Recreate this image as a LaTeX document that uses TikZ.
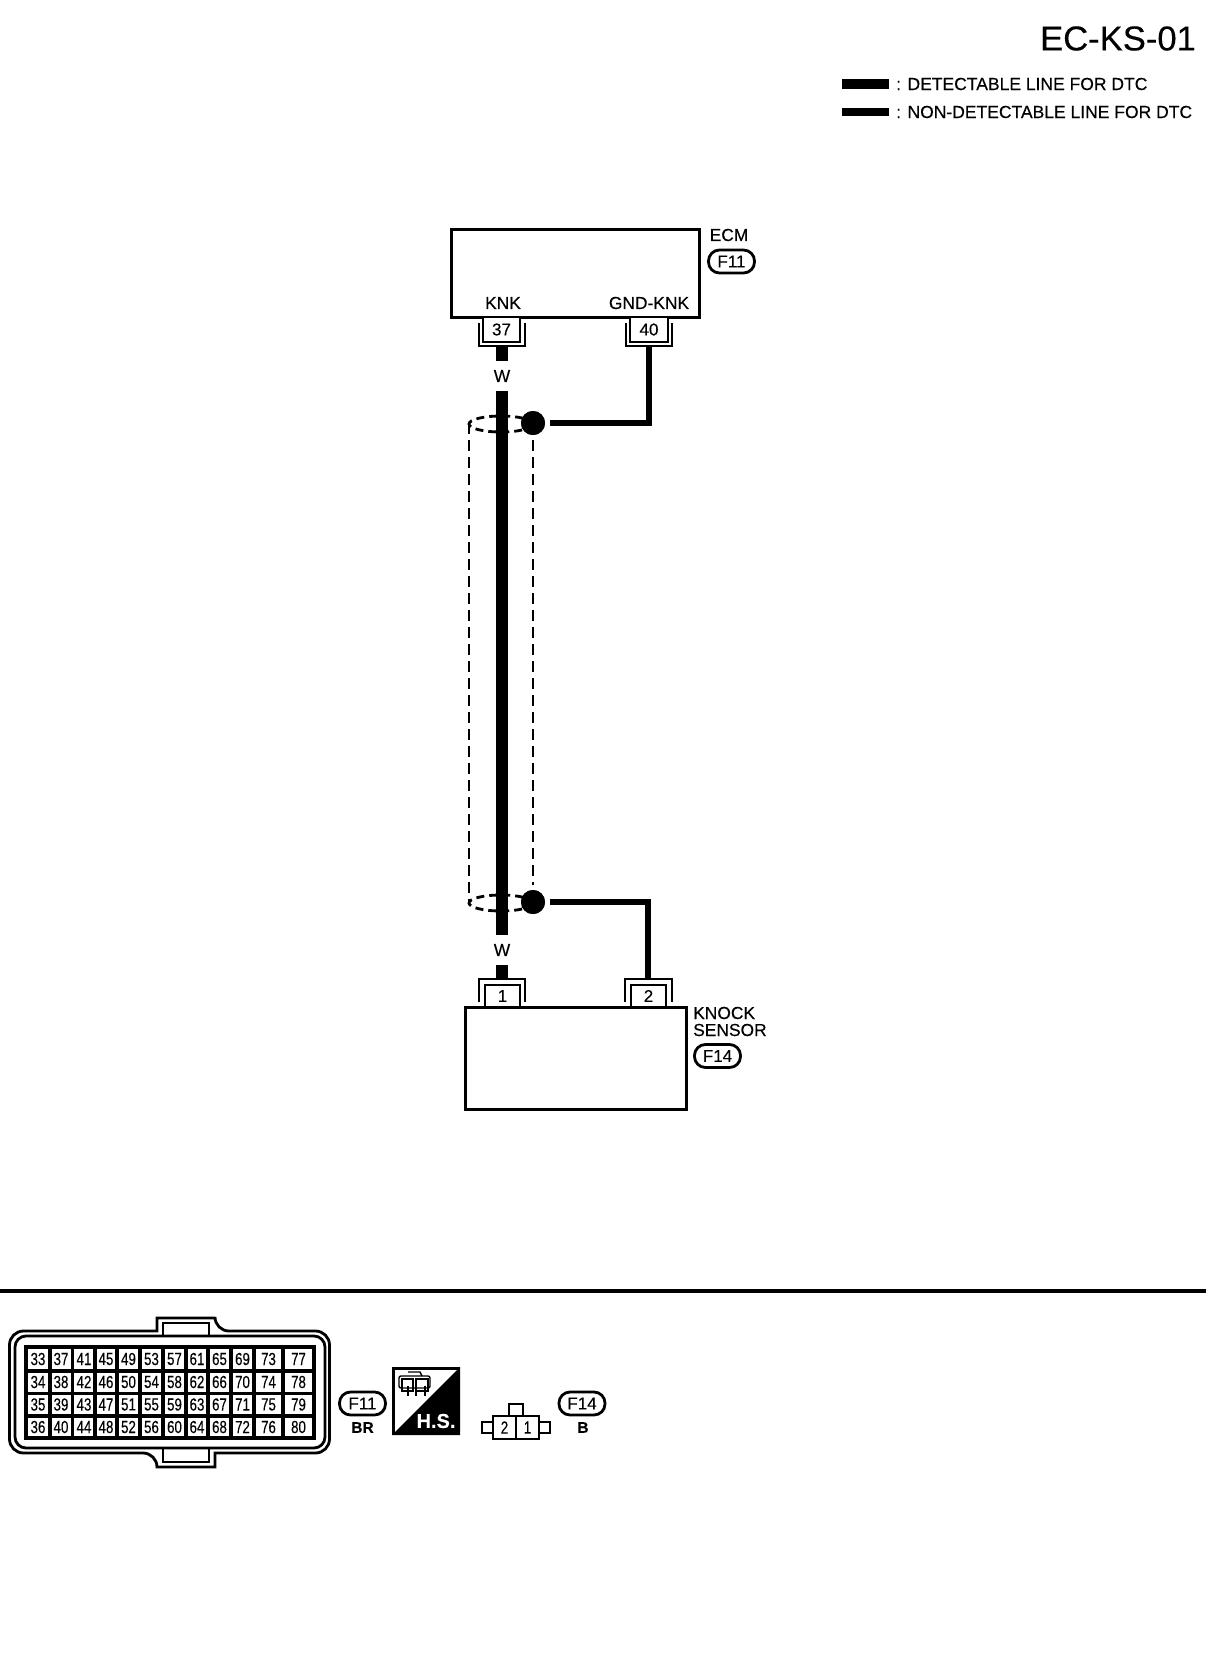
\documentclass[tikz,border=0pt]{standalone}
\usepackage{fontspec}
\usepackage{graphicx}
\setmainfont[FakeBold=0.25]{Liberation Sans}
\usetikzlibrary{positioning}
\newcommand{\pinnum}[1]{\scalebox{.76}[1]{#1}}
\begin{document}
\begin{tikzpicture}[x=1pt,y=-1pt,
    lab node/.style={inner sep=0pt,font=\fontsize{17.4}{17}\selectfont},
    legend node/.style={lab node,anchor=west,font=\fontsize{17.5}{17}\selectfont},
    box node/.style={draw,line width=3pt,inner sep=0pt},
    pin node/.style={draw,line width=2.5pt,inner sep=0pt,fill=white,font=\fontsize{17}{17}\selectfont},
    pill node/.style={draw,line width=2.8pt,rounded corners=11pt,inner sep=0pt,minimum width=46pt,minimum height=23pt,font=\fontsize{17}{17}\selectfont},
    cell node/.style={draw,line width=3.2pt,inner sep=0pt,font=\fontsize{17.5}{17}\selectfont},
    wire node/.style={lab node,minimum height=30pt,minimum width=20pt},
    dot node/.style={circle,fill,inner sep=0pt,minimum size=24pt,outer sep=5pt},
    det wire/.style={line width=12pt},
    non wire/.style={line width=5.5pt},
    shield/.style={line width=2.8pt,dash pattern=on 11pt off 6pt},
    shell/.style={line width=2.8pt},
    hook/.style={line width=2.5pt}]
  \useasboundingbox (0,0) rectangle (1216,1660);

  \node[lab node,font=\fontsize{34.6}{35}\selectfont] (title) at (1118,38.5) {EC-KS-01};
  \coordinate (lega1) at (842,84);
  \coordinate (lega2) at (889,84);
  \coordinate (legb1) at (842,112);
  \coordinate (legb2) at (889,112);
  \draw[line width=10pt] (lega1) -- (lega2);
  \draw[line width=8pt] (legb1) -- (legb2);
  \node[legend node] (lega) at (896,84) {: DETECTABLE LINE FOR DTC};
  \node[legend node] (legb) at (896,112) {: NON-DETECTABLE LINE FOR DTC};

  \node[box node,minimum width=248pt,minimum height=88pt] (ecm) at (575,273) {};
  \node[lab node,anchor=west] (ecmlab) at (709.5,235) {ECM};
  \node[pill node] (f11top) at (731.5,261.5) {F11};
  \node[lab node] (knk) at (503,303) {KNK};
  \node[lab node] (gndknk) at (649,303) {GND-KNK};
  \node[pin node,minimum width=37pt,minimum height=25pt] (p37) at (501.5,329.5) {37};
  \node[pin node,minimum width=38pt,minimum height=25pt] (p40) at (649,329.5) {40};
  \draw[hook] (479,323) -- (479,346) -- (525,346) -- (525,323);
  \draw[hook] (626,323) -- (626,346) -- (672,346) -- (672,323);

  \node[box node,minimum width=221pt,minimum height=102pt] (knock) at (575.5,1058) {};
  \node[lab node,anchor=west] (knocklab) at (693,1013) {KNOCK};
  \node[lab node,anchor=west] (sensorlab) at (693,1030) {SENSOR};
  \node[pill node] (f14top) at (717.5,1056) {F14};
  \node[pin node,minimum width=35pt,minimum height=22pt] (p1) at (502.5,996) {1};
  \node[pin node,minimum width=35pt,minimum height=22pt] (p2) at (648.5,996) {2};
  \draw[hook] (479,1002) -- (479,979) -- (525,979) -- (525,1002);
  \draw[hook] (625,1002) -- (625,979) -- (672,979) -- (672,1002);

  \node[wire node] (wtop) at (502,376) {W};
  \node[wire node] (wbot) at (502,950) {W};
  \node[dot node] (dottop) at (533,423) {};
  \node[dot node] (dotbot) at (533,902) {};
  \coordinate (u37) at (502,346);
  \coordinate (u40) at (649,346);
  \coordinate (u1) at (502,979);
  \coordinate (u2) at (648,979);
  \coordinate (shtop) at (469,423);
  \coordinate (shbot) at (469,902);

  \draw[shield] (shtop) -- (shbot);
  \draw[shield] (dottop) -- (dotbot);
  \draw[shield,dash pattern=on 8pt off 5pt] (501,424) ellipse [x radius=32,y radius=8];
  \draw[shield,dash pattern=on 8pt off 5pt] (501,903) ellipse [x radius=32,y radius=8];
  \node[dot node] at (533,423) {};
  \node[dot node] at (533,902) {};
  \path
    (u37) edge[det wire] (wtop)
    (wtop) edge[det wire] (wbot)
    (wbot) edge[det wire] (u1);
  \draw[non wire] (dottop.east) -| (u40);
  \draw[non wire] (dotbot.east) -| (u2);

  \coordinate (rulea) at (0,1291);
  \coordinate (ruleb) at (1206,1291);
  \draw[line width=3.2pt] (rulea) -- (ruleb);

  \draw[shell] (157,1331) [rounded corners=14pt] -- (9.5,1331) -- (9.5,1453) -- (157,1453) [sharp corners] -- (157,1467) -- (215,1467) -- (215,1453) [rounded corners=14pt] -- (329.5,1453) -- (329.5,1331) -- (215,1331) [sharp corners] -- (215,1318) -- (157,1318) -- cycle;
  \draw[shell,rounded corners=11pt] (15,1336) rectangle (325,1448);
  \draw[shell] (163,1336) -- (163,1323) -- (209,1323) -- (209,1336);
  \draw[shell] (163,1448) -- (163,1462) -- (209,1462) -- (209,1448);
  \foreach \ry/\rh/\r in {1359/24/0,1382/22.5/1,1404.5/22.5/2,1427/22/3}
    \foreach \cx/\cw/\c in {38/24/0,61/23/1,84/22.5/2,106/22/3,128.5/23/4,151.5/23/5,174.5/23/6,197/22/7,219.5/23/8,242.5/23/9,268.5/29/10,298.5/31/11} {
      \pgfmathtruncatemacro{\pinno}{33+4*\c+\r}
      \node[cell node,minimum width=\cw pt,minimum height=\rh pt] (c\pinno) at (\cx,\ry) {\pinnum{\pinno}};
    }

  \node[pill node] (f11bot) at (362.5,1403.5) {F11};
  \node[lab node,font=\bfseries\fontsize{15.5}{15}\selectfont] (brlab) at (362.5,1427.5) {BR};

  \node[draw,line width=3pt,minimum size=65pt,inner sep=0pt] (hsbox) at (426,1401) {};
  \fill (hsbox.north east) -- (hsbox.south east) -- (hsbox.south west) -- cycle;
  \node[lab node,text=white,font=\bfseries\fontsize{20}{20}\selectfont] (hslab) at (436,1421) {H.S.};
  \draw[line width=1.4pt,rounded corners=2pt] (399,1376) rectangle (430,1388);
  \draw[line width=1.4pt] (402,1379) rectangle (413,1391);
  \draw[line width=1.4pt] (416,1379) rectangle (428,1391);
  \draw[line width=1.4pt] (408,1372) -- (420,1372) -- (422,1376);
  \draw[line width=1.4pt] (408,1386) -- (408,1396);
  \draw[line width=1.4pt] (416,1386) -- (416,1396);
  \draw[line width=1.4pt] (425,1386) -- (425,1396);

  \node[draw,line width=2.8pt,minimum width=23pt,minimum height=23pt,inner sep=0pt,font=\fontsize{17.5}{17}\selectfont] (pinb) at (504.5,1427.5) {\pinnum{2}};
  \node[draw,line width=2.8pt,minimum width=23pt,minimum height=23pt,inner sep=0pt,font=\fontsize{17.5}{17}\selectfont] (pina) at (527.5,1427.5) {\pinnum{1}};
  \draw[shell] (509,1416) -- (509,1404) -- (523,1404) -- (523,1416);
  \draw[shell] (493,1422) -- (482,1422) -- (482,1433) -- (493,1433);
  \draw[shell] (539,1422) -- (550,1422) -- (550,1433) -- (539,1433);

  \node[pill node] (f14bot) at (582,1403.5) {F14};
  \node[lab node,font=\bfseries\fontsize{15.5}{15}\selectfont] (blab) at (583,1427.5) {B};
\end{tikzpicture}
\end{document}
